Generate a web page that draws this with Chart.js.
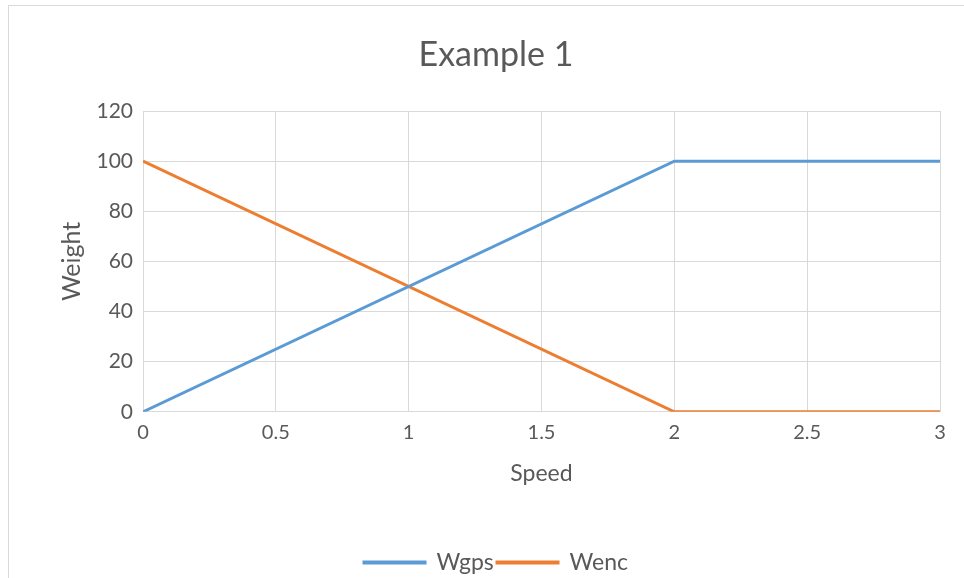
<!DOCTYPE html>
<html>
<head>
<meta charset="utf-8">
<script src="https://cdn.jsdelivr.net/npm/chart.js@4"></script>
<style>
  html, body { margin: 0; padding: 0; background: #fff; }
  #wrap { position: absolute; left: 0; top: 0; width: 964px; height: 578px; }
</style>
</head>
<body>
<div id="wrap"><canvas id="c" width="964" height="578"></canvas></div>
<script>
const chartTitle = "Example 1";
const speed = [0, 2, 3];
const wgps = [0, 100, 100];
const wenc = [100, 0, 0];
const seriesNames = ["Wgps", "Wenc"];
const xTitle = "Speed";
const yTitle = "Weight";

const FONT = "Lato, 'Open Sans', 'Liberation Sans', sans-serif";
const TXT = "#595959";
const GRID = "#d9d9d9";

const frame = {
  id: 'frame',
  beforeDraw(chart) {
    const ctx = chart.ctx;
    ctx.save();
    ctx.fillStyle = '#fff';
    ctx.fillRect(0, 0, chart.width, chart.height);
    ctx.strokeStyle = GRID;
    ctx.lineWidth = 1;
    ctx.beginPath();
    ctx.moveTo(8, 5.5); ctx.lineTo(chart.width, 5.5);
    ctx.moveTo(8.5, 5); ctx.lineTo(8.5, chart.height);
    ctx.stroke();
    ctx.restore();
  }
};

function pts(xs, ys) { return xs.map((x, i) => ({x: x, y: ys[i]})); }

new Chart(document.getElementById('c'), {
  type: 'line',
  data: {
    datasets: [
      { label: seriesNames[0], data: pts(speed, wgps), borderColor: '#5B9BD5', backgroundColor: '#5B9BD5', borderWidth: 3, pointRadius: 0, tension: 0 },
      { label: seriesNames[1], data: pts(speed, wenc), borderColor: '#ED7D31', backgroundColor: '#ED7D31', borderWidth: 3, pointRadius: 0, tension: 0 }
    ]
  },
  options: {
    responsive: false,
    animation: false,
    layout: { padding: { left: 52, right: 24, top: 0, bottom: -6 } },
    plugins: {
      title: {
        display: true, text: chartTitle, color: TXT,
        font: { family: FONT, size: 34, weight: 'normal' },
        padding: { top: 34.6, bottom: 35.6 }
      },
      legend: {
        position: 'bottom',
        labels: {
          color: TXT, font: { family: FONT, size: 23 },
          boxWidth: 61, boxHeight: 1, padding: 3.2
        }
      },
      tooltip: { enabled: false }
    },
    scales: {
      x: {
        type: 'linear', min: 0, max: 3,
        ticks: { stepSize: 0.5, color: TXT, font: { family: FONT, size: 20 }, padding: 9, callback: v => v },
        grid: { color: GRID, drawTicks: false, lineWidth: 1 },
        border: { display: false },
        title: { display: true, text: xTitle, color: TXT, font: { family: FONT, size: 23 }, padding: { top: 0, bottom: 60 } },
        afterFit(s) { s.height = 136; }
      },
      y: {
        type: 'linear', min: 0, max: 120,
        ticks: { stepSize: 20, color: TXT, font: { family: FONT, size: 21 }, padding: 10 },
        grid: { color: GRID, drawTicks: false, lineWidth: 1 },
        border: { display: false },
        title: { display: true, text: yTitle, color: TXT, font: { family: FONT, size: 25 }, padding: { top: 5, bottom: 0 } },
        afterFit(s) { s.width = 91; }
      }
    }
  },
  plugins: [frame]
});
</script>
</body>
</html>
